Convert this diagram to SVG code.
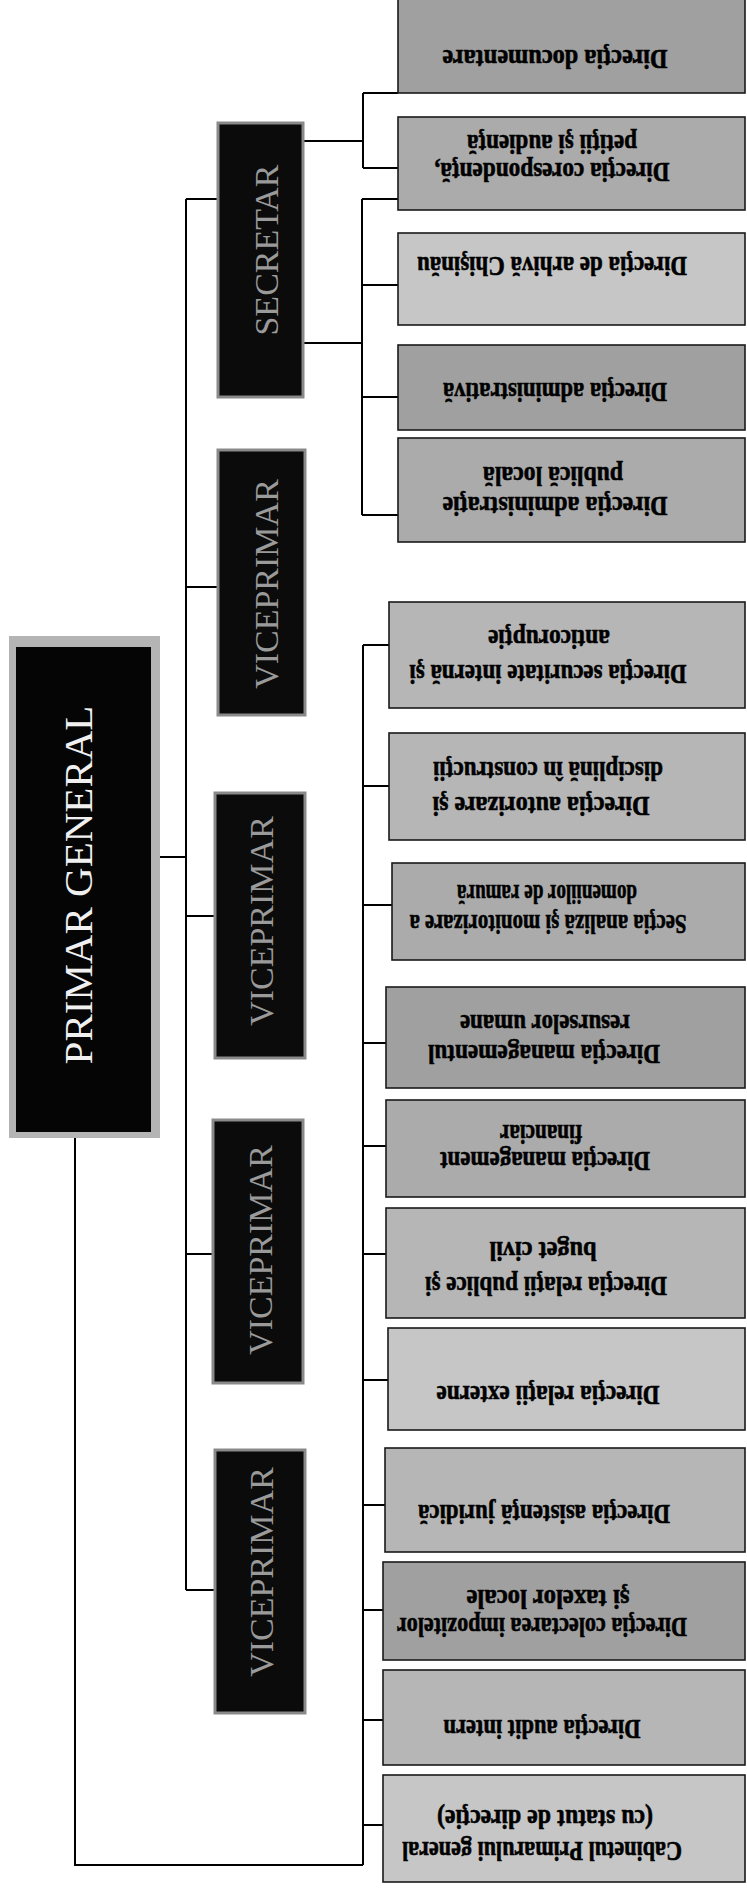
<svg xmlns="http://www.w3.org/2000/svg" width="747" height="1888" viewBox="0 0 747 1888">
<style>
.bx{stroke:#1a1a1a;stroke-width:1.6}
.m{fill:#ababab}.l{fill:#c6c6c6}.k{fill:#a0a0a0}.n{fill:#b6b6b6}
.t{font-family:"Liberation Serif","Times New Roman",serif;font-weight:bold;font-size:27px;fill:#000;stroke:#000;stroke-width:0.6;text-anchor:middle}
.dk{fill:#0b0b0b;stroke:#8a8a8a;stroke-width:3}
.dt{font-family:"Liberation Serif","Times New Roman",serif;font-size:34px;fill:#9a9a9a;text-anchor:middle}
.c{fill:none;stroke:#000;stroke-width:2}
</style>
<rect width="747" height="1888" fill="#fff"/>
<g id="connectors">
<path class="c" d="M186 199V1590M186 199H218M186 587H218M186 916H215M186 1254H213M186 1590H215M160 857H186"/>
<path class="c" d="M75 1138V1865H363M363 645V1865M363 645H389M363 786H389M363 905H392M363 1043H386M363 1146H386M363 1254H386M363 1380H388M363 1505H385M363 1610H383M363 1720H383M363 1825H383"/>
<path class="c" d="M303 141H363M363 93V168M363 93H398M363 168H398M303 343H362M362 199V515M362 199H398M362 285H398M362 397H398M362 515H398"/>
</g>
<g id="primar">
<rect x="9" y="636" width="151" height="502" fill="#b4b4b4"/>
<rect x="16" y="647" width="135" height="485" fill="#050505"/>
<text x="92" y="885" transform="rotate(-90 92 885)" style="font-family:'Liberation Serif','Times New Roman',serif;font-size:41px;fill:#f0f0f0;text-anchor:middle">PRIMAR GENERAL</text>
</g>
<g id="secretar"><rect class="dk" x="218" y="123" width="85" height="274"/><text class="dt" x="278" y="250" transform="rotate(-90 278 250)">SECRETAR</text></g>
<g id="vice1"><rect class="dk" x="218" y="450" width="87" height="265"/><text class="dt" x="278" y="584" transform="rotate(-90 278 584)">VICEPRIMAR</text></g>
<g id="vice2"><rect class="dk" x="215" y="793" width="90" height="265"/><text class="dt" x="273" y="921" transform="rotate(-90 273 921)">VICEPRIMAR</text></g>
<g id="vice3"><rect class="dk" x="213" y="1120" width="90" height="263"/><text class="dt" x="272" y="1250" transform="rotate(-90 272 1250)">VICEPRIMAR</text></g>
<g id="vice4"><rect class="dk" x="215" y="1450" width="90" height="263"/><text class="dt" x="273" y="1572" transform="rotate(-90 273 1572)">VICEPRIMAR</text></g>

<g id="documentare"><rect class="bx k" x="398" y="-2" width="347" height="95"/><text class="t" x="555" y="50" transform="rotate(180 555 50)" textLength="225" lengthAdjust="spacingAndGlyphs">Direcţia documentare</text></g>
<g id="corespondenta"><rect class="bx m" x="398" y="117" width="347" height="93"/><text class="t" x="552" y="163" transform="rotate(180 552 163)" textLength="235" lengthAdjust="spacingAndGlyphs">Direcţia corespondenţă,</text><text class="t" x="552" y="135" transform="rotate(180 552 135)" textLength="170" lengthAdjust="spacingAndGlyphs">petiţii şi audienţă</text></g>
<g id="arhiva"><rect class="bx l" x="398" y="233" width="347" height="92"/><text class="t" x="552" y="257" transform="rotate(180 552 257)" textLength="270" lengthAdjust="spacingAndGlyphs">Direcţia de arhivă Chişinău</text></g>
<g id="administrativa"><rect class="bx k" x="398" y="345" width="347" height="85"/><text class="t" x="555" y="383" transform="rotate(180 555 383)" textLength="224" lengthAdjust="spacingAndGlyphs">Direcţia administrativă</text></g>
<g id="adminpublica"><rect class="bx m" x="398" y="438" width="347" height="104"/><text class="t" x="555" y="497" transform="rotate(180 555 497)" textLength="225" lengthAdjust="spacingAndGlyphs">Direcţia administraţie</text><text class="t" x="553" y="467" transform="rotate(180 553 467)" textLength="140" lengthAdjust="spacingAndGlyphs">publică locală</text></g>

<g id="securitate"><rect class="bx n" x="389" y="602" width="356" height="106"/><text class="t" x="548" y="665" transform="rotate(180 548 665)" textLength="277" lengthAdjust="spacingAndGlyphs">Direcţia securitate internă şi</text><text class="t" x="549" y="630" transform="rotate(180 549 630)" textLength="122" lengthAdjust="spacingAndGlyphs">anticorupţie</text></g>
<g id="autorizare"><rect class="bx n" x="389" y="733" width="356" height="107"/><text class="t" x="541" y="797" transform="rotate(180 541 797)" textLength="217" lengthAdjust="spacingAndGlyphs">Direcţia autorizare şi</text><text class="t" x="548" y="762" transform="rotate(180 548 762)" textLength="230" lengthAdjust="spacingAndGlyphs">disciplină în construcţii</text></g>
<g id="analiza"><rect class="bx m" x="392" y="863" width="353" height="97"/><text class="t" x="548" y="915" transform="rotate(180 548 915)" textLength="277" lengthAdjust="spacingAndGlyphs">Secţia analiză şi monitorizare a</text><text class="t" x="547" y="885" transform="rotate(180 547 885)" textLength="180" lengthAdjust="spacingAndGlyphs">domeniilor de ramură</text></g>
<g id="resurse"><rect class="bx k" x="386" y="987" width="359" height="101"/><text class="t" x="544" y="1045" transform="rotate(180 544 1045)" textLength="232" lengthAdjust="spacingAndGlyphs">Direcţia managementul</text><text class="t" x="545" y="1015" transform="rotate(180 545 1015)" textLength="170" lengthAdjust="spacingAndGlyphs">resurselor umane</text></g>
<g id="financiar"><rect class="bx m" x="386" y="1100" width="359" height="97"/><text class="t" x="545" y="1152" transform="rotate(180 545 1152)" textLength="210" lengthAdjust="spacingAndGlyphs">Direcţia management</text><text class="t" x="541" y="1125" transform="rotate(180 541 1125)" textLength="82" lengthAdjust="spacingAndGlyphs">financiar</text></g>
<g id="relpublice"><rect class="bx n" x="386" y="1208" width="359" height="110"/><text class="t" x="546" y="1277" transform="rotate(180 546 1277)" textLength="242" lengthAdjust="spacingAndGlyphs">Direcţia relaţii publice şi</text><text class="t" x="543" y="1242" transform="rotate(180 543 1242)" textLength="107" lengthAdjust="spacingAndGlyphs">buget civil</text></g>
<g id="relexterne"><rect class="bx l" x="388" y="1328" width="357" height="102"/><text class="t" x="548" y="1386" transform="rotate(180 548 1386)" textLength="223" lengthAdjust="spacingAndGlyphs">Direcţia relaţii externe</text></g>
<g id="juridica"><rect class="bx n" x="385" y="1448" width="360" height="104"/><text class="t" x="544" y="1505" transform="rotate(180 544 1505)" textLength="252" lengthAdjust="spacingAndGlyphs">Direcţia asistenţă juridică</text></g>
<g id="colectare"><rect class="bx k" x="383" y="1562" width="362" height="98"/><text class="t" x="542" y="1618" transform="rotate(180 542 1618)" textLength="290" lengthAdjust="spacingAndGlyphs">Direcţia colectarea impozitelor</text><text class="t" x="548" y="1590" transform="rotate(180 548 1590)" textLength="163" lengthAdjust="spacingAndGlyphs">şi taxelor locale</text></g>
<g id="audit"><rect class="bx n" x="383" y="1670" width="362" height="95"/><text class="t" x="542" y="1720" transform="rotate(180 542 1720)" textLength="197" lengthAdjust="spacingAndGlyphs">Direcţia audit intern</text></g>
<g id="cabinet"><rect class="bx l" x="383" y="1775" width="362" height="107"/><text class="t" x="542" y="1842" transform="rotate(180 542 1842)" textLength="280" lengthAdjust="spacingAndGlyphs">Cabinetul Primarului general</text><text class="t" x="545" y="1810" transform="rotate(180 545 1810)" textLength="216" lengthAdjust="spacingAndGlyphs">(cu statut de direcţie)</text></g>
</svg>
